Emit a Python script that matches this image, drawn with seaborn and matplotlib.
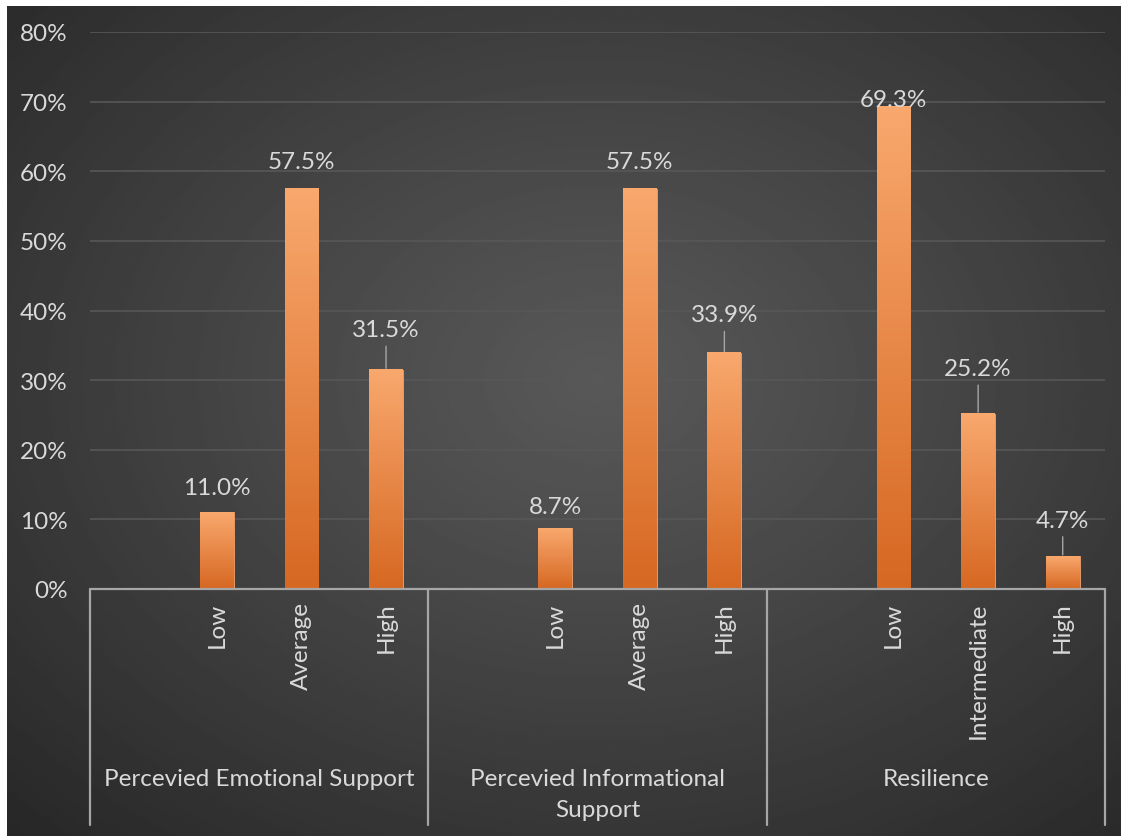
import numpy as np
import pandas as pd
import matplotlib
matplotlib.use("Agg")
import matplotlib.pyplot as plt
import matplotlib.transforms as mtransforms
import seaborn as sns

# ---- data ----
groups = ["Percevied Emotional Support", "Percevied Informational\nSupport", "Resilience"]
levels = [["Low", "Average", "High"],
          ["Low", "Average", "High"],
          ["Low", "Intermediate", "High"]]
values = [[11.0, 57.5, 31.5],
          [8.7, 57.5, 33.9],
          [69.3, 25.2, 4.7]]
y_ticks = [0, 10, 20, 30, 40, 50, 60, 70, 80]

# label gaps (pixels above bar top) and whether label has leader line
label_gap_px = [[25, 27, 40], [22, 27, 38], [7, 45, 36]]
leader = [[False, False, True], [False, False, True], [False, True, True]]

sns.set_theme(style="white")
plt.rcParams['font.family'] = ['Lato', 'DejaVu Sans']

TXT = "#D9D9D9"
FS = 17.5
fig = plt.figure(figsize=(11.21, 8.37), dpi=100)
fig.patch.set_facecolor("white")

# background radial gradient
W, H = 1121, 837
bgax = fig.add_axes([7 / W, 0, 1 - 7 / W, 1 - 7 / H], zorder=-10)
yy, xx = np.mgrid[0:400, 0:500]
xx = xx / 499.0
yy = yy / 399.0
r = np.sqrt(((xx - 0.53) / 0.78) ** 2 + ((yy - 0.45) / 0.78) ** 2)
r = np.clip(r, 0, 1)
v = (88 - (88 - 38) * r ** 1.1) / 255.0
bgax.imshow(v, cmap="gray", vmin=0, vmax=1, aspect="auto", interpolation="bilinear")
bgax.set_axis_off()

ax = fig.add_axes([90 / W, 1 - 590 / H, (1105 - 90) / W, (590 - 33) / H], zorder=1)
ax.patch.set_alpha(0)

rows = []
for gi, g in enumerate(groups):
    for li, lv in enumerate(levels[gi]):
        rows.append({"slot": gi * 4 + 1 + li, "value": values[gi][li], "level": lv, "group": g})
df = pd.DataFrame(rows)

sns.barplot(data=df, x="slot", y="value", native_scale=True, width=0.4,
            color="#F0924F", edgecolor="#F2A06A", linewidth=0.6, ax=ax, zorder=3)

ax.set_xlim(-0.5, 11.5)
ax.set_ylim(0, 80)

# gradient fill for bars
top_c = np.array([249, 168, 110]) / 255.0
bot_c = np.array([214, 104, 34]) / 255.0
grad = np.linspace(0, 1, 256)[:, None]
img = top_c[None, None, :] * (1 - grad[:, :, None]) + bot_c[None, None, :] * grad[:, :, None]
for p in ax.patches:
    x0, y0 = p.get_x(), p.get_y()
    w, h = p.get_width(), p.get_height()
    ax.imshow(img, extent=[x0, x0 + w, y0, y0 + h], aspect="auto", zorder=3.5,
              interpolation="bilinear")
ax.set_xlim(-0.5, 11.5)
ax.set_ylim(0, 80)

# grid
for t in y_ticks[1:]:
    ax.axhline(t, color="#575757", lw=1.2, zorder=1)
for s in ax.spines.values():
    s.set_visible(False)
ax.axhline(0, color="#A6A6A6", lw=1.6, zorder=5, clip_on=False)

ax.set_yticks(y_ticks)
ax.set_yticklabels([f"{t}%" for t in y_ticks], color=TXT, fontsize=FS)
ax.tick_params(axis="y", length=0, pad=16)
ax.set_xticks(df["slot"])
ax.set_xticklabels(df["level"], rotation=90, color=TXT, fontsize=FS, va="top", ha="center")
ax.tick_params(axis="x", length=0, pad=9)
ax.set_xlabel("")
ax.set_ylabel("")

# value labels
for gi in range(len(groups)):
    for li in range(3):
        xs = gi * 4 + 1 + li
        val = values[gi][li]
        gap = label_gap_px[gi][li] * 0.72
        kw = {}
        if leader[gi][li]:
            kw["arrowprops"] = dict(arrowstyle="-", color="#A6A6A6", lw=1.0, shrinkA=2, shrinkB=1)
        ax.annotate(f"{val:.1f}%", xy=(xs, val), xytext=(0, gap), textcoords="offset points",
                    ha="center", va="center", color=TXT, fontsize=FS, zorder=6, **kw)

# multi-level category axis
trans = mtransforms.blended_transform_factory(ax.transData, ax.transAxes)
sep_bottom = (590 - 826) / (590 - 33)
for b in [-0.5, 3.5, 7.5, 11.5]:
    ax.plot([b, b], [0, sep_bottom], transform=trans, color="#A6A6A6", lw=1.6, clip_on=False)
grp_y = (590 - 769) / (590 - 33)
for gi, g in enumerate(groups):
    ax.text(gi * 4 + 1.5, grp_y, g, transform=trans, ha="center", va="top", color=TXT,
            fontsize=FS, linespacing=1.6)

fig.savefig("out.png", dpi=100)
